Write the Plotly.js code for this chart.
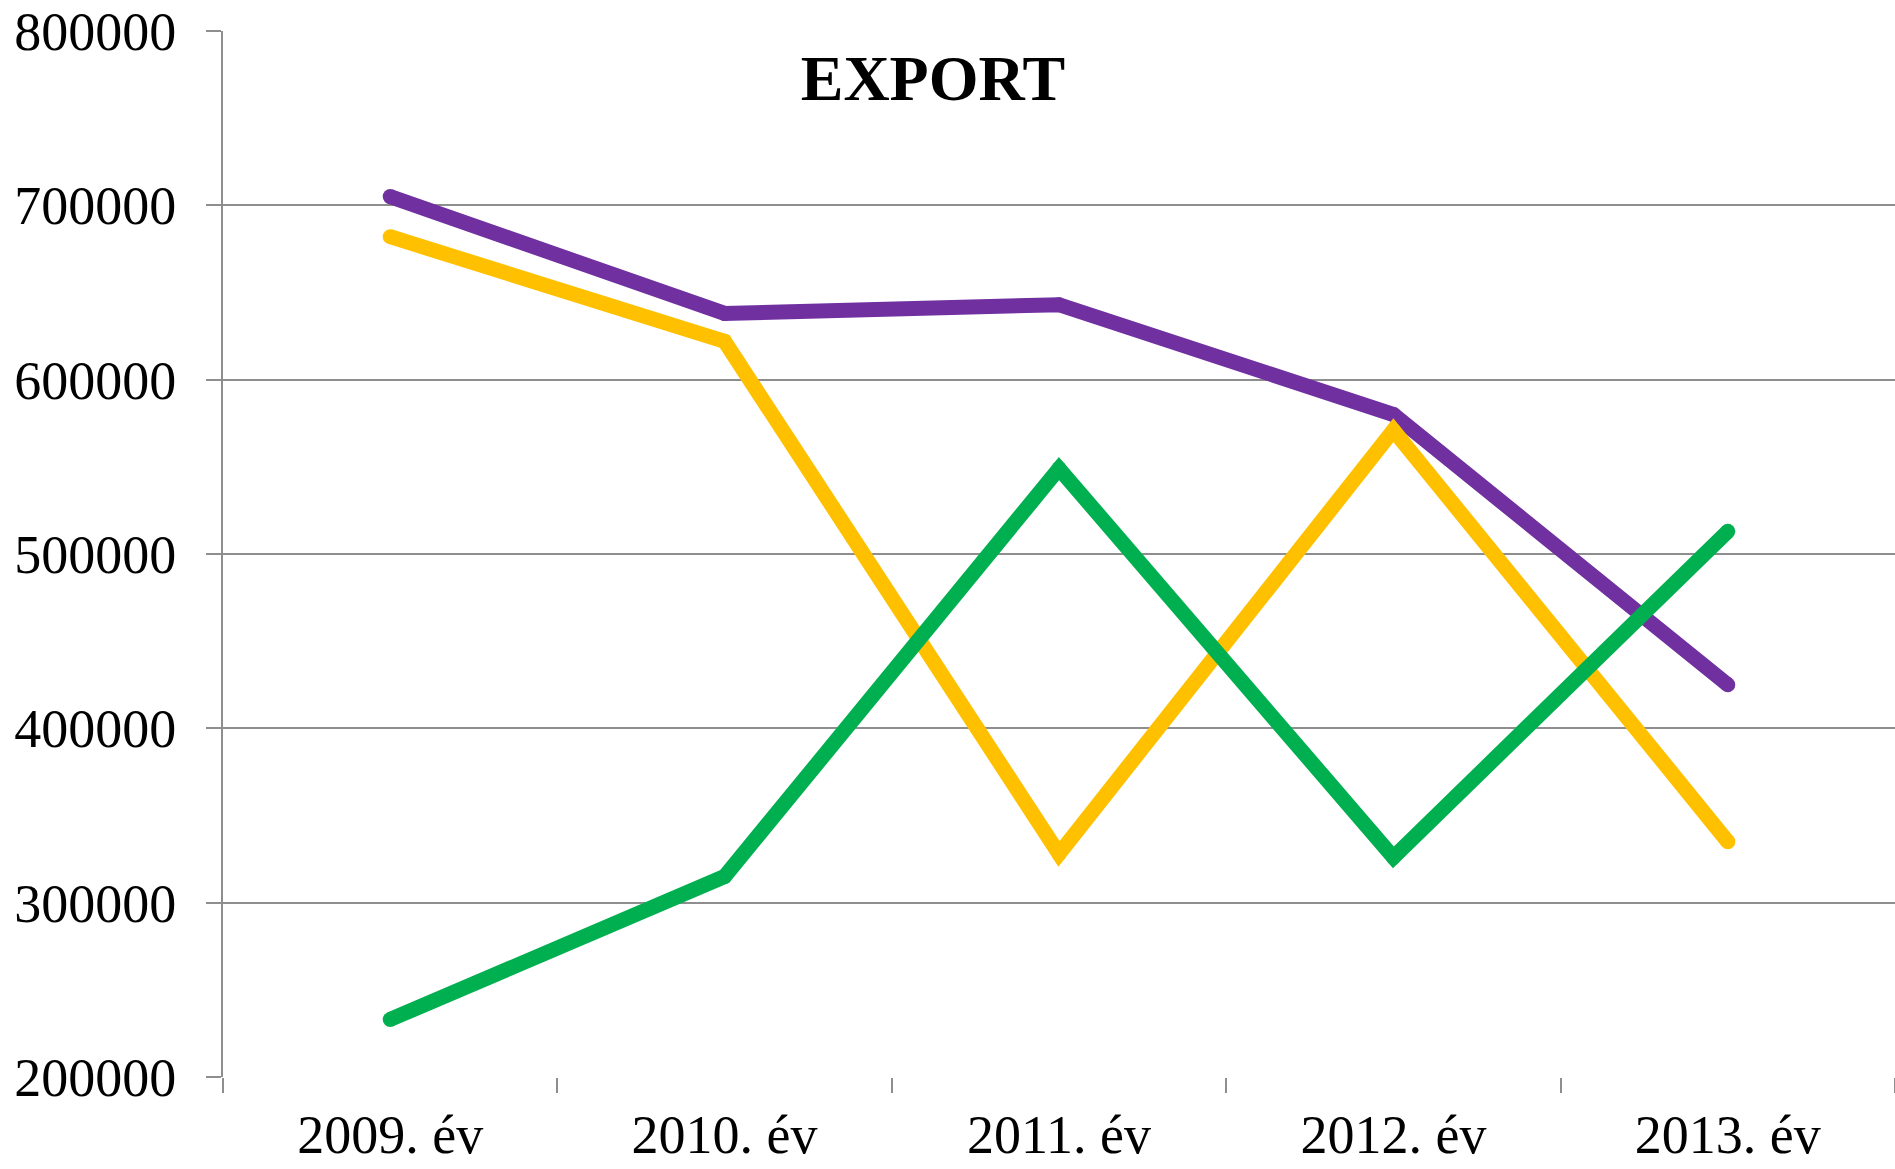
<!DOCTYPE html>
<html>
<head>
<meta charset="utf-8">
<script src="https://cdn.plot.ly/plotly-3.0.1.min.js"></script>
<style>
  html, body { margin: 0; padding: 0; background: #fff; }
  #chart { width: 1895px; height: 1169px; }
</style>
</head>
<body>
<div id="chart"></div>
<script>
var years = ['2009. év', '2010. év', '2011. év', '2012. év', '2013. év'];

var purpleValues = [705000, 638000, 643000, 580000, 425000];
var yellowValues = [682000, 622000, 328000, 571000, 335000];
var greenValues = [233000, 315000, 549000, 326000, 513000];

var lineWidth = 15;

function makeTrace(values, color, name) {
  return {
    x: years,
    y: values,
    mode: 'lines+markers',
    name: name,
    line: { color: color, width: lineWidth },
    marker: { color: color, size: lineWidth },
    type: 'scatter',
    hoverinfo: 'x+y'
  };
}

var data = [
  makeTrace(purpleValues, '#7030A0', 'A'),
  makeTrace(yellowValues, '#FFC000', 'B'),
  makeTrace(greenValues, '#00B050', 'C')
];

var gridColor = '#8e8e8e';

var layout = {
  width: 1895,
  height: 1169,
  showlegend: false,
  paper_bgcolor: '#fff',
  plot_bgcolor: '#fff',
  font: { family: 'Liberation Serif, Times New Roman, serif', color: '#000', size: 54 },
  margin: { l: 223, r: 0, t: 31, b: 92, pad: 0 },
  title: {
    text: '<b>EXPORT</b>',
    font: { family: 'Liberation Serif, Times New Roman, serif', size: 64, color: '#000' },
    xref: 'paper',
    x: 0.4246,
    xanchor: 'center',
    yref: 'container',
    y: 0.934,
    yanchor: 'middle'
  },
  xaxis: {
    type: 'category',
    range: [-0.5, 4.5],
    showgrid: false,
    zeroline: false,
    showline: false,
    ticks: 'outside',
    tickson: 'boundaries',
    ticklen: 15,
    tickwidth: 2,
    tickcolor: gridColor,
    ticklabelstandoff: 21,
    tickfont: { size: 54 }
  },
  yaxis: {
    range: [200000, 800000],
    dtick: 100000,
    tick0: 200000,
    tickformat: 'd',
    showgrid: true,
    gridcolor: gridColor,
    gridwidth: 2,
    zeroline: false,
    showline: true,
    linecolor: gridColor,
    linewidth: 2,
    ticks: 'outside',
    ticklen: 15,
    tickwidth: 2,
    tickcolor: gridColor,
    ticklabelstandoff: 19,
    tickfont: { size: 54 }
  }
};

Plotly.newPlot('chart', data, layout, { displayModeBar: false, staticPlot: true });
</script>
</body>
</html>
